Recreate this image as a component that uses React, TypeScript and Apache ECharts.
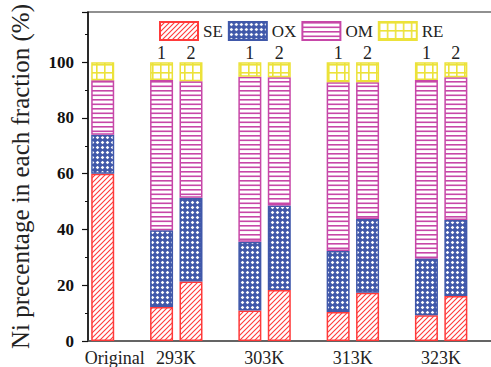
import React, { useEffect, useRef } from "react";
import * as echarts from "echarts";

const categories = [
  "Original", "gap-a", "293K-1", "293K-2", "gap-b", "303K-1", "303K-2",
  "gap-c", "313K-1", "313K-2", "gap-d", "323K-1", "323K-2", "gap-e",
];
const seValues = [60, "-", 12.2, 21.3, "-", 10.9, 18.3, "-", 10.4, 17.3, "-", 9.2, 16.1, "-"];
const oxValues = [14, "-", 27.5, 30.1, "-", 24.7, 30.3, "-", 21.9, 26.5, "-", 20.4, 27.3, "-"];
const omValues = [19.5, "-", 53.9, 41.8, "-", 59.2, 46.0, "-", 60.5, 49.0, "-", 64.0, 51.2, "-"];
const reValues = [6.5, "-", 6.4, 6.8, "-", 5.2, 5.4, "-", 7.2, 7.2, "-", 6.4, 5.4, "-"];
const seriesNames = ["SE", "OX", "OM", "RE"];
const yTicks = { min: 0, max: 118, interval: 20 };
const yName = "Ni precentage in each fraction (%)";

const RED = "#ff3a3a";
const BLUE = "#4058aa";
const MAGENTA = "#c747a8";
const YELLOW = "#ece23a";
const FONT = "Liberation Serif";

function tile(w: number, h: number, draw: (c: CanvasRenderingContext2D) => void) {
  const cv = document.createElement("canvas");
  cv.width = w;
  cv.height = h;
  const ctx = cv.getContext("2d")!;
  draw(ctx);
  return { image: cv, repeat: "repeat", imageWidth: w, imageHeight: h } as any;
}

function makePatterns() {
  const se = tile(5, 5, (c) => {
    c.fillStyle = "#fff";
    c.fillRect(0, 0, 5, 5);
    c.strokeStyle = RED;
    c.lineWidth = 1.1;
    c.beginPath();
    c.moveTo(-1, 6); c.lineTo(6, -1);
    c.moveTo(-1, 1); c.lineTo(1, -1);
    c.moveTo(4, 6); c.lineTo(6, 4);
    c.stroke();
  });
  const ox = tile(5, 5, (c) => {
    c.fillStyle = BLUE;
    c.fillRect(0, 0, 5, 5);
    c.fillStyle = "#fff";
    c.beginPath();
    c.moveTo(2.5, 0.7); c.lineTo(4.3, 2.5); c.lineTo(2.5, 4.3); c.lineTo(0.7, 2.5);
    c.closePath();
    c.fill();
  });
  const om = tile(9, 9, (c) => {
    c.fillStyle = "#fff";
    c.fillRect(0, 0, 9, 9);
    c.fillStyle = MAGENTA;
    c.fillRect(0, 0, 9, 1.6);
    c.fillRect(0, 4.5, 9, 1.6);
  });
  const re = tile(8, 8, (c) => {
    c.fillStyle = "#fff";
    c.fillRect(0, 0, 8, 8);
    c.fillStyle = YELLOW;
    c.fillRect(0, 0, 8, 1.6);
    c.fillRect(0, 0, 1.6, 8);
  });
  return [se, ox, om, re];
}

export default function App() {
  const ref = useRef<HTMLDivElement>(null);
  useEffect(() => {
    document.body.style.margin = "0";
    const chart = echarts.init(ref.current!, null, { renderer: "svg" });
    const patterns = makePatterns();
    const borders = [RED, BLUE, MAGENTA, YELLOW];
    const values = [seValues, oxValues, omValues, reValues];
    const series = seriesNames.map((name, i) => ({
      name,
      type: "bar",
      stack: "total",
      barWidth: 23,
      data: values[i],
      itemStyle: { color: patterns[i], borderColor: borders[i], borderWidth: 1.5 },
      emphasis: { disabled: true },
      label:
        i === 3
          ? {
              show: true,
              position: "top",
              distance: 0,
              fontFamily: FONT,
              fontSize: 18,
              color: "#222",
              formatter: (p: any) => {
                const n = String(p.name);
                if (n.endsWith("-1")) return "1";
                if (n.endsWith("-2")) return "2";
                return "";
              },
            }
          : { show: false },
    }));
    chart.setOption({
      animation: false,
      grid: { left: 88, top: 12, right: 0, bottom: 24, show: true, borderColor: "#222", borderWidth: 1.2 },
      legend: {
        data: seriesNames,
        left: 159,
        top: 21,
        padding: 0,
        itemWidth: 38,
        itemHeight: 18,
        itemGap: 5,
        icon: "rect",
        textStyle: { fontFamily: FONT, fontSize: 17, color: "#222" },
      },
      xAxis: {
        type: "category",
        data: categories,
        position: "bottom",
        axisLine: { lineStyle: { color: "#555", width: 1.5 } },
        axisTick: { show: false },
        axisLabel: {
          interval: 0,
          margin: 8,
          fontFamily: FONT,
          fontSize: 18,
          color: "#222",
          formatter: (v: string) => {
            if (v === "Original") return "{o|Original}";
            if (v.endsWith("-1")) return "{g|" + v.slice(0, -2) + "}";
            return "";
          },
          rich: {
            o: { fontFamily: FONT, fontSize: 18, color: "#222", padding: [0, 0, 0, 24] },
            g: { fontFamily: FONT, fontSize: 18, color: "#222", padding: [0, 0, 0, 29] },
          },
        },
      },
      yAxis: {
        type: "value",
        min: yTicks.min,
        max: yTicks.max,
        interval: yTicks.interval,
        name: yName,
        nameLocation: "middle",
        nameGap: 55,
        nameTextStyle: { fontFamily: FONT, fontSize: 25, color: "#222" },
        axisLine: { show: true, lineStyle: { color: "#111", width: 1.5 } },
        axisTick: { show: true, inside: false, length: 6, lineStyle: { color: "#111", width: 1.2 } },
        minorTick: { show: true, splitNumber: 2, length: 3, lineStyle: { color: "#111", width: 1 } },
        splitLine: { show: false },
        axisLabel: {
          showMaxLabel: false,
          margin: 14,
          fontFamily: FONT,
          fontSize: 17,
          fontWeight: "bold",
          color: "#111",
          formatter: (v: number) => (v > 100 ? "" : String(v)),
        },
      },
      series,
    });
    return () => chart.dispose();
  }, []);
  return (
    <div style={{ width: 491, height: 367, overflow: "hidden", position: "relative" }}>
      <div ref={ref} style={{ width: 500, height: 367 }} />
    </div>
  );
}
